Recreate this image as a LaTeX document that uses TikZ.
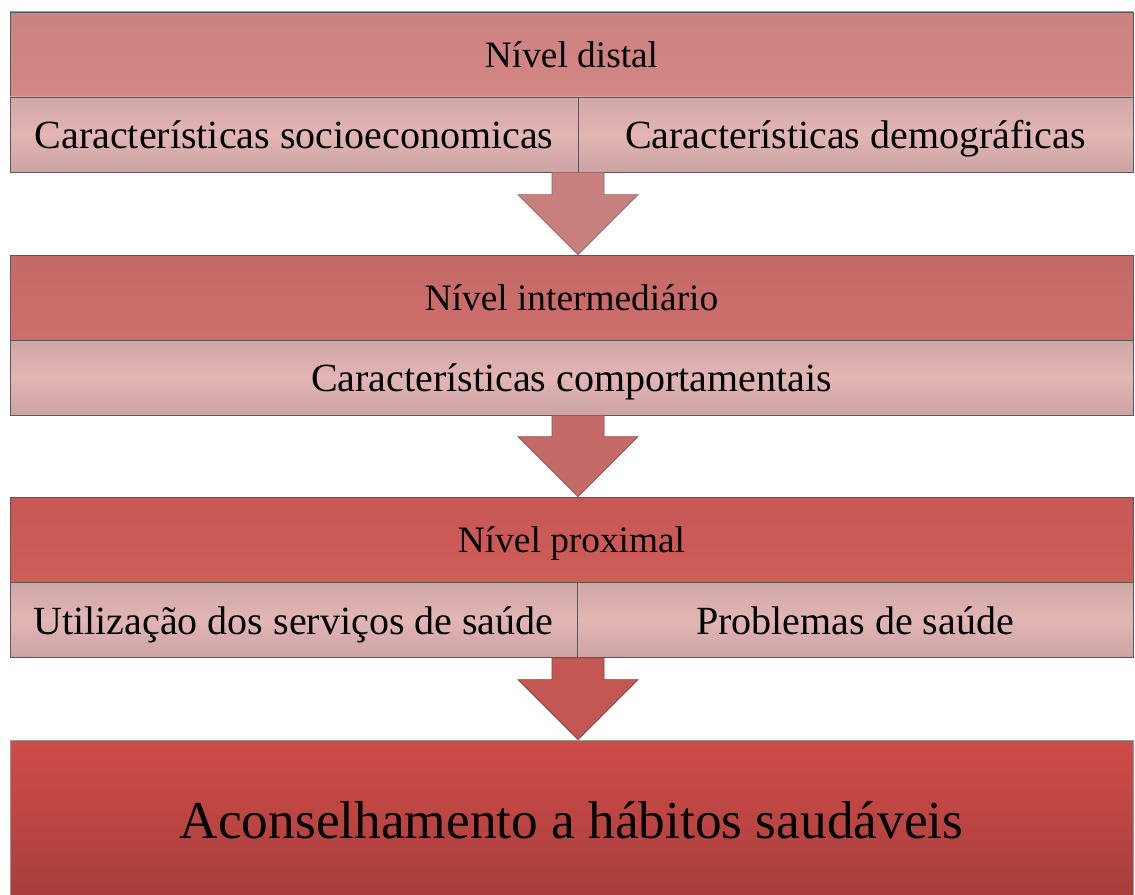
\documentclass[tikz,border=0pt]{standalone}
\usepackage{fontspec}
\setmainfont{Liberation Serif}
\usetikzlibrary{calc}
\definecolor{distalhead}{HTML}{D48785}
\definecolor{interhead}{HTML}{CD6E6C}
\definecolor{proxhead}{HTML}{CF5C59}
\definecolor{factorfill}{HTML}{E3B5B5}
\definecolor{outcometop}{HTML}{D04B48}
\definecolor{outcomebot}{HTML}{A63F3D}
\definecolor{arrowone}{HTML}{C98180}
\definecolor{arrowtwo}{HTML}{C46B69}
\definecolor{arrowthree}{HTML}{C45654}
\tikzset{%
    level/.style={
        draw=black!65, line width=0.6pt, inner sep=0pt,
        minimum width=842.25pt, minimum height=63.75pt,
        text height=20pt, text depth=0pt,
        top color=#1!96!black, bottom color=#1,
        font=\fontsize{28}{32}\selectfont
    },
    factor/.style={
        draw=black!65, line width=0.6pt, inner sep=0pt,
        minimum height=56.25pt,
        text height=21pt, text depth=0pt,
        top color=factorfill!92!black, bottom color=factorfill!90!black,
        middle color=factorfill,
        font=\fontsize{30}{34}\selectfont
    },
    outcome/.style={
        draw=black!40, line width=0.6pt, inner sep=0pt,
        minimum width=842.25pt, minimum height=120pt,
        text height=28pt, text depth=0pt,
        top color=outcometop, bottom color=outcomebot,
        font=\fontsize{40}{46}\selectfont
    },
    levelarrow/.style={draw=#1!75!black, line width=0.5pt, fill=#1}
}
% big down arrow from one level to the next
\newcommand{\levelarrow}[3]{%
    \filldraw[levelarrow=#3]
        ($(#1.south -| axis)+(-26,0)$) -- ($(#1.south -| axis)+(26,0)$)
        -- ($(#2.north -| axis)+(26,-60)$) -- ($(#2.north -| axis)+(60,-60)$)
        -- (#2.north -| axis) -- ($(#2.north -| axis)+(-60,-60)$)
        -- ($(#2.north -| axis)+(-26,-60)$) -- cycle;
}

\begin{document}
\begin{tikzpicture}[x=0.75pt, y=-0.75pt]
    \useasboundingbox[fill=white] (0,0) rectangle (1135,895);
    \coordinate (axis) at (578,0);

    % distal level
    \node[level=distalhead] (distal) at (571.5,54.5) {Nível distal};
    \node[factor, minimum width=426pt] (socio) at (294,134.5) {Características socioeconomicas};
    \node[factor, minimum width=416.25pt] (demo) at (855.5,134.5) {Características demográficas};

    % intermediate level
    \node[level=interhead] (inter) at (571.5,297.5) {Nível intermediário};
    \node[factor, minimum width=842.25pt] (comport) at (571.5,377.5) {Características comportamentais};

    % proximal level
    \node[level=proxhead] (proximal) at (571.5,539.5) {Nível proximal};
    \node[factor, minimum width=425.25pt] (servicos) at (293.5,620) {Utilização dos serviços de saúde};
    \node[factor, minimum width=417pt] (problemas) at (855,620) {Problemas de saúde};

    % outcome
    \node[outcome] (aconselha) at (571.5,820) {Aconselhamento a hábitos saudáveis};

    \levelarrow{socio}{inter}{arrowone}
    \levelarrow{comport}{proximal}{arrowtwo}
    \levelarrow{servicos}{aconselha}{arrowthree}
\end{tikzpicture}
\end{document}
